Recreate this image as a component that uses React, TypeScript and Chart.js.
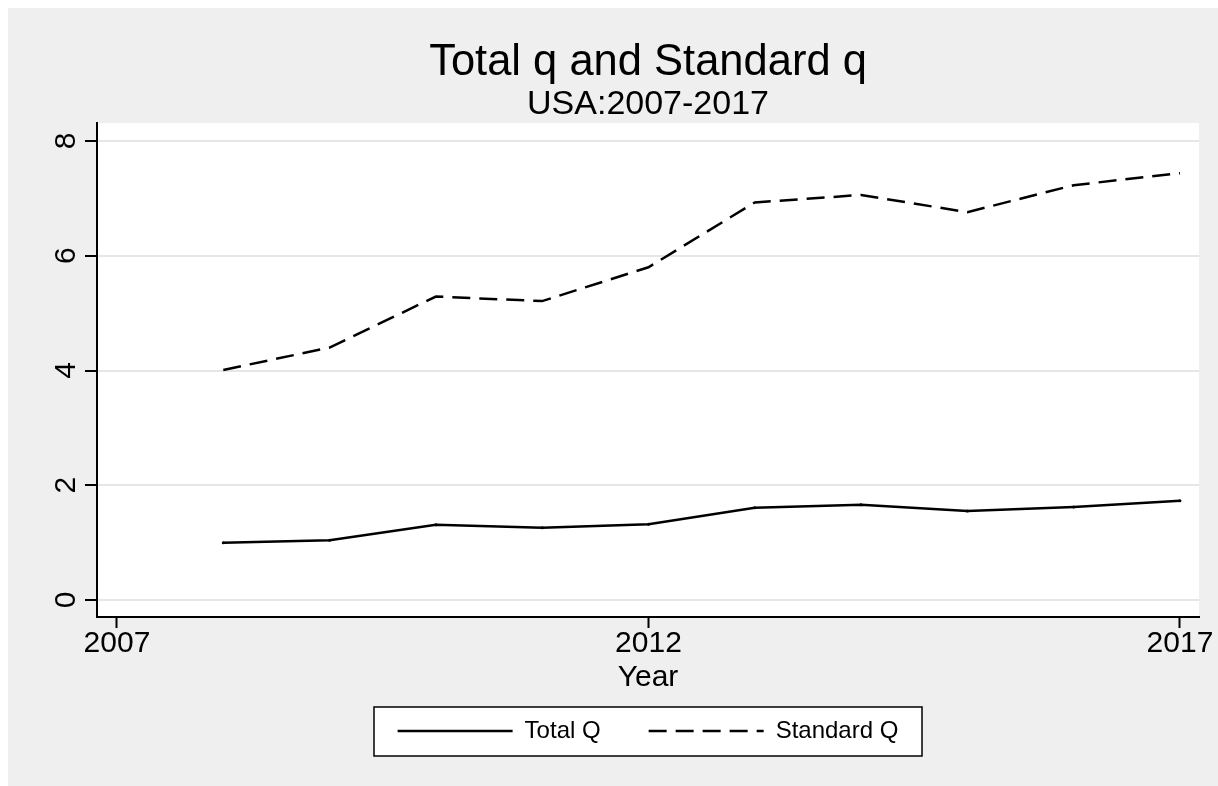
import React, { useEffect, useRef } from "react";
import { Chart, registerables } from "chart.js";

Chart.register(...registerables);

const years = [2008, 2009, 2010, 2011, 2012, 2013, 2014, 2015, 2016, 2017];
const totalQ = [1.0, 1.04, 1.31, 1.26, 1.32, 1.61, 1.66, 1.55, 1.62, 1.73];
const standardQ = [4.01, 4.4, 5.29, 5.21, 5.8, 6.93, 7.06, 6.76, 7.23, 7.44];
const xTicks = [2007, 2012, 2017];
const yTicks = [0, 2, 4, 6, 8];
const seriesLabels = ["Total Q", "Standard Q"];
const titleText = "Total q and Standard q";
const subtitleText = "USA:2007-2017";
const xTitleText = "Year";

const FONT = "'Liberation Sans', Arial, Helvetica, sans-serif";

const bgPlugin = {
  id: "stataBackground",
  beforeDraw(chart: any) {
    const { ctx, width, height, chartArea } = chart;
    ctx.save();
    ctx.fillStyle = "#efefef";
    ctx.fillRect(0, 0, width, height);
    ctx.fillStyle = "#ffffff";
    ctx.fillRect(
      chartArea.left,
      chartArea.top,
      chartArea.right - chartArea.left,
      chartArea.bottom - chartArea.top
    );
    const boxes = chart.legend && chart.legend.legendHitBoxes;
    if (boxes && boxes.length) {
      let l = Infinity;
      let r = -Infinity;
      boxes.forEach((b: any) => {
        l = Math.min(l, b.left);
        r = Math.max(r, b.left + b.width);
      });
      const cy = boxes[0].top + boxes[0].height / 2;
      const x0 = Math.round(l - 24);
      const x1 = Math.round(r + 24);
      const y0 = Math.round(cy - 24.5);
      const y1 = Math.round(cy + 24.5);
      ctx.fillStyle = "#ffffff";
      ctx.fillRect(x0, y0, x1 - x0, y1 - y0);
      ctx.strokeStyle = "#000000";
      ctx.lineWidth = 1.5;
      ctx.strokeRect(x0, y0, x1 - x0, y1 - y0);
    }
    ctx.restore();
  },
};

export default function App() {
  const ref = useRef<HTMLCanvasElement>(null);

  useEffect(() => {
    if (!ref.current) return;
    const chart = new Chart(ref.current, {
      type: "line",
      data: {
        datasets: [
          {
            label: seriesLabels[0],
            data: years.map((x, i) => ({ x, y: totalQ[i] })),
            borderColor: "#000000",
            backgroundColor: "#000000",
            borderWidth: 2.5,
            pointRadius: 1.5,
            pointBorderWidth: 0,
            pointBackgroundColor: "#000000",
            tension: 0,
            fill: false,
          },
          {
            label: seriesLabels[1],
            data: years.map((x, i) => ({ x, y: standardQ[i] })),
            borderColor: "#000000",
            backgroundColor: "#000000",
            borderWidth: 2.5,
            borderDash: [18, 9],
            pointRadius: 0,
            tension: 0,
            fill: false,
          },
        ],
      },
      options: {
        responsive: false,
        animation: false,
        events: [],
        layout: { padding: { left: 0, right: 19, top: 0, bottom: 33 } },
        font: { family: FONT },
        scales: {
          x: {
            type: "linear",
            min: 2006.812,
            max: 2017.179,
            afterBuildTicks: (s: any) => {
              s.ticks = xTicks.map((v) => ({ value: v }));
            },
            afterFit: (s: any) => {
              s.height = 76;
            },
            ticks: {
              callback: (v: any) => String(v),
              font: { family: FONT, size: 30, lineHeight: 1 },
              color: "#000000",
              padding: 1,
              maxRotation: 0,
              autoSkip: false,
            },
            grid: {
              drawOnChartArea: false,
              drawTicks: true,
              tickLength: 11,
              tickColor: "#000000",
              tickWidth: 2,
            },
            border: { color: "#000000", width: 2 },
            title: {
              display: true,
              text: xTitleText,
              color: "#000000",
              font: { family: FONT, size: 30, lineHeight: 1 },
              padding: 0,
            },
          },
          y: {
            type: "linear",
            min: -0.296,
            max: 8.314,
            afterBuildTicks: (s: any) => {
              s.ticks = yTicks.map((v) => ({ value: v }));
            },
            afterFit: (s: any) => {
              s.width = 89;
            },
            ticks: {
              callback: (v: any) => String(v),
              font: { family: FONT, size: 30, lineHeight: 1 },
              color: "#000000",
              padding: 10,
              minRotation: 90,
              maxRotation: 90,
              crossAlign: "center",
              autoSkip: false,
            },
            grid: {
              color: "#e6e6e6",
              lineWidth: 2,
              tickColor: "#000000",
              tickWidth: 2,
              tickLength: 12,
            },
            border: { color: "#000000", width: 2 },
          },
        },
        plugins: {
          tooltip: { enabled: false },
          title: {
            display: true,
            text: titleText,
            fullSize: false,
            color: "#000000",
            font: { family: FONT, size: 43.5, lineHeight: 1, weight: "normal" },
            padding: { top: 33, bottom: 0 },
          },
          subtitle: {
            display: true,
            text: subtitleText,
            fullSize: false,
            color: "#000000",
            font: { family: FONT, size: 34, lineHeight: 1, weight: "normal" },
            padding: { top: 3, bottom: 1.5 },
          },
          legend: {
            display: true,
            position: "bottom",
            fullSize: false,
            title: {
              display: true,
              text: "",
              font: { size: 1, lineHeight: 1 },
              padding: { top: -23, bottom: 0 },
            },
            labels: {
              usePointStyle: true,
              pointStyle: "line",
              pointStyleWidth: 115,
              padding: 48,
              color: "#000000",
              font: { family: FONT, size: 24, lineHeight: 1 },
              generateLabels: (c: any) => {
                const items = (Chart as any).defaults.plugins.legend.labels.generateLabels(c);
                items.forEach((it: any) => {
                  const ds: any = c.data.datasets[it.datasetIndex];
                  it.lineWidth = ds.borderWidth;
                  it.lineDash = ds.borderDash || [];
                  it.strokeStyle = ds.borderColor;
                  it.fillStyle = ds.borderColor;
                  it.pointStyle = "line";
                });
                return items;
              },
            },
          },
        },
      } as any,
      plugins: [bgPlugin],
    });
    return () => chart.destroy();
  }, []);

  return (
    <div style={{ position: "absolute", left: 8, top: 8, width: 1210, height: 778 }}>
      <canvas ref={ref} width={1210} height={778} style={{ display: "block" }} />
    </div>
  );
}
